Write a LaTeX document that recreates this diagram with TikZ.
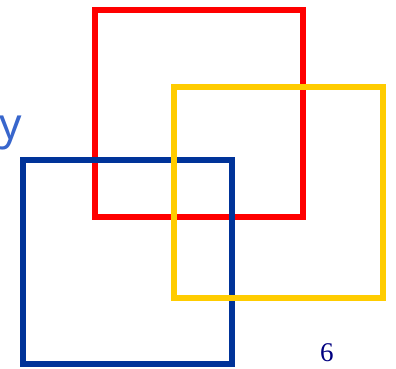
\documentclass[tikz,border=0pt]{standalone}
\usepackage{fontspec}
\newfontfamily\lblsans{Noto Sans}
\newfontfamily\lblserif{Liberation Serif}
\definecolor{sqred}{RGB}{255,0,0}
\definecolor{sqyellow}{RGB}{255,204,0}
\definecolor{sqblue}{RGB}{0,51,153}
\definecolor{txtblue}{RGB}{56,102,204}
\definecolor{txtnavy}{RGB}{0,0,128}
\tikzset{sqbox/.style={line width=6pt}}
\begin{document}
\begin{tikzpicture}[x=1pt,y=1pt]
\useasboundingbox (0,0) rectangle (396,368);
\draw[sqbox,sqred] (95,358) rectangle (303,151);
\draw[sqbox,sqblue] (23,208) rectangle (232,4);
\draw[sqbox,sqyellow] (174,281) rectangle (383,70);
\node[anchor=base west,inner sep=0pt,text=txtblue,font=\lblsans\fontsize{44}{44}\selectfont] (ylbl) at (-1,229) {y};
\node[anchor=base west,inner sep=0pt,text=txtnavy,font=\lblserif\fontsize{27}{27}\selectfont] (num) at (320,7) {6};
\end{tikzpicture}
\end{document}
